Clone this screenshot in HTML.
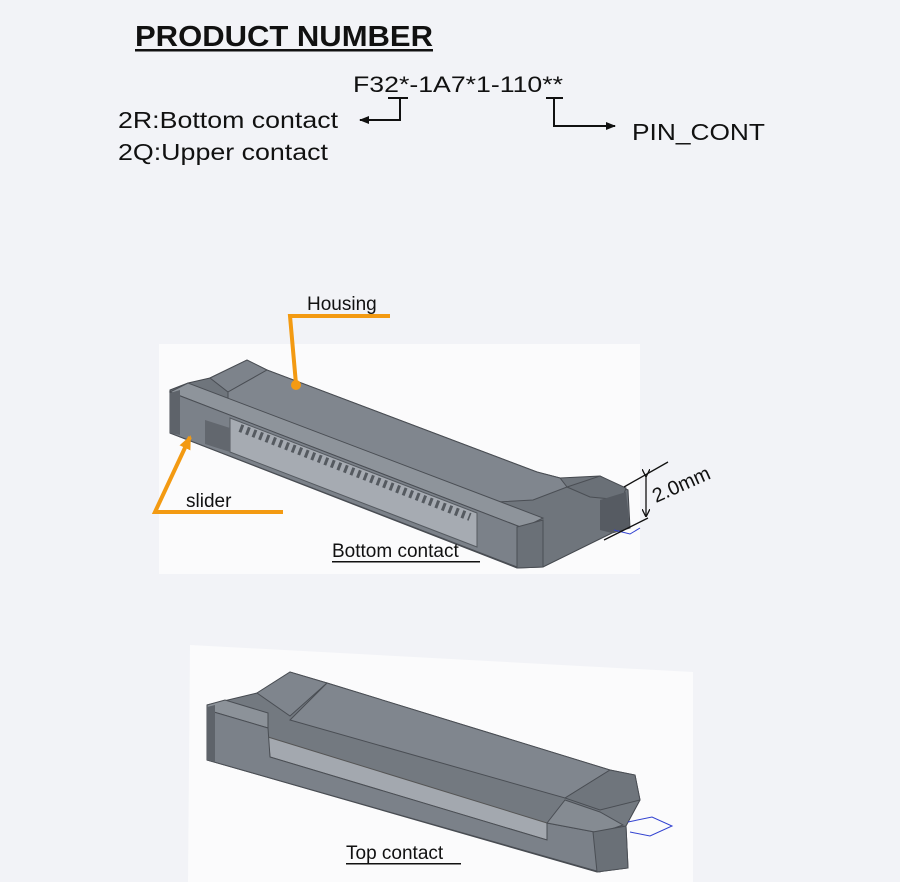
<!DOCTYPE html>
<html><head><meta charset="utf-8"><style>
html,body{margin:0;padding:0;background:#f2f3f7;}
svg{display:block;}
text{font-family:"Liberation Sans",Arial,sans-serif;fill:#111;}
</style></head><body>
<svg width="900" height="882" viewBox="0 0 900 882" xmlns="http://www.w3.org/2000/svg">
<defs>
<marker id="ah" markerWidth="10" markerHeight="8" refX="9" refY="4" orient="auto" markerUnits="userSpaceOnUse"><path d="M0,0 L10,4 L0,8 z" fill="#111"/></marker>
<marker id="oa" markerWidth="14" markerHeight="12" refX="12" refY="6" orient="auto" markerUnits="userSpaceOnUse"><path d="M0,0 L14,6 L0,12 z" fill="#f39a12"/></marker>
<marker id="da" markerWidth="8" markerHeight="8" refX="7" refY="4" orient="auto" markerUnits="userSpaceOnUse"><path d="M0,0 L8,4 L0,8" fill="none" stroke="#111" stroke-width="1.3"/></marker>
</defs>
<rect width="900" height="882" fill="#f2f3f7"/>

<!-- header -->
<text x="135" y="46" font-size="29" font-weight="bold" textLength="298" lengthAdjust="spacingAndGlyphs">PRODUCT NUMBER</text>
<rect x="135" y="49" width="298" height="2.5" fill="#111"/>
<text x="353" y="92" font-size="22" textLength="210" lengthAdjust="spacingAndGlyphs">F32*-1A7*1-110**</text>
<text x="118" y="128" font-size="23" textLength="220" lengthAdjust="spacingAndGlyphs">2R:Bottom contact</text>
<text x="118" y="160" font-size="23" textLength="210" lengthAdjust="spacingAndGlyphs">2Q:Upper contact</text>
<text x="632" y="140" font-size="23" textLength="133" lengthAdjust="spacingAndGlyphs">PIN_CONT</text>
<g stroke="#111" stroke-width="2" fill="none">
<path d="M388,98 H408 M400,98 V120 H360" marker-end="url(#ah)"/>
<path d="M546,98 H563 M554,98 V126 H615" marker-end="url(#ah)"/>
</g>

<!-- panel 1 -->
<rect x="159" y="344" width="481" height="230" fill="#fbfbfc"/>
<!-- silhouette -->
<polygon points="170,390 188,383 210,378 247,360 267,370 537,472 560,478 600,476 628,490 630,528 612,533 543,567 517,568 170,433" fill="#6f757c" stroke="#44484e"/>
<!-- housing plate -->
<polygon points="210,378 247,360 267,370 228,392" fill="#7d838b" stroke="#4a4e54" stroke-width="1"/>
<polygon points="228,392 267,370 537,472 560,478 567,487 533,500 497,502 228,402" fill="#80868e" stroke="#4a4e54" stroke-width="1"/>
<polygon points="567,487 600,476 626,488 622,500 590,497" fill="#6a7077" stroke="#4a4e54"/>
<polygon points="600,500 626,492 630,528 612,533 600,530" fill="#565b62"/>
<!-- slider top strip -->
<polygon points="170,392 188,383 543,518 523,528" fill="#8e949b" stroke="#4a4e54" stroke-width="1"/>
<!-- front face -->
<polygon points="170,392 523,528 517,533 517,567 170,433" fill="#7b8189" stroke="#4a4e54" stroke-width="1"/>
<!-- slot -->
<polygon points="230,418 477,513 477,547 230,452" fill="#a6abb2" stroke="#555a60" stroke-width="1"/>
<path d="M240,428 L470,517" stroke="#555a60" stroke-width="8" stroke-dasharray="3,4"/>
<polygon points="205,420 230,428 230,452 205,444" fill="#62676e"/>
<polygon points="517,527 543,520 543,567 517,568" fill="#6a7077" stroke="#4a4e54"/>
<polygon points="170,393 180,390 180,435 170,433" fill="#5e636a"/>
<path d="M614,530 L630,534 L640,528" stroke="#3040d0" stroke-width="1" fill="none"/>
<!-- annotations -->
<g stroke="#f39a12" stroke-width="4" fill="none">
<path d="M390,316 H290 L296,384"/>
<path d="M283,512 H155 L190,437" marker-end="url(#oa)"/>
</g>
<circle cx="296" cy="385" r="5" fill="#f39a12"/>
<text x="307" y="310" font-size="19">Housing</text>
<text x="186" y="507" font-size="19">slider</text>
<g stroke="#111" stroke-width="1.3" fill="none">
<path d="M624,487 L668,462"/>
<path d="M604,540 L648,518"/>
<path d="M646,476 L646,516" marker-start="url(#da)" marker-end="url(#da)"/>
</g>
<text x="0" y="0" font-size="20" transform="translate(656,503) rotate(-24)">2.0mm</text>
<text x="332" y="557" font-size="19">Bottom contact</text>
<rect x="332" y="561" width="148" height="1.5" fill="#111"/>

<!-- panel 2 -->
<polygon points="190,645 693,672 693,882 188,882" fill="#fbfbfc"/>
<polygon points="207,705 257,693 290,672 327,683 610,770 635,775 640,800 626,826 628,868 597,872 207,760" fill="#737980" stroke="#44484e"/>
<polygon points="257,693 290,672 327,683 290,716" fill="#7f858d" stroke="#4a4e54"/>
<polygon points="290,720 327,683 610,770 565,798" fill="#80868e" stroke="#4a4e54"/>
<polygon points="565,798 610,770 635,775 640,800 600,810" fill="#6f757c" stroke="#4a4e54"/>
<polygon points="207,705 225,700 268,713 268,728 207,710" fill="#8c9299" stroke="#4a4e54"/>
<polygon points="268,737 547,823 547,840 270,757" fill="#a3a8af" stroke="#555"/>
<polygon points="207,710 268,728 270,757 547,840 547,823 600,833 600,872 207,760" fill="#7b8189" stroke="#4a4e54"/>
<polygon points="547,823 565,800 600,812 623,825 600,833" fill="#858b92" stroke="#4a4e54"/>
<polygon points="593,832 626,826 628,868 597,872" fill="#6a7077" stroke="#4a4e54"/>
<polygon points="207,707 215,705 215,762 207,760" fill="#5e636a"/>
<path d="M628,822 L652,817 L672,826 L650,836 L630,832" stroke="#3040d0" stroke-width="1" fill="none"/>
<text x="346" y="859" font-size="19">Top contact</text>
<rect x="346" y="863" width="115" height="1.5" fill="#111"/>
</svg>
</body></html>
